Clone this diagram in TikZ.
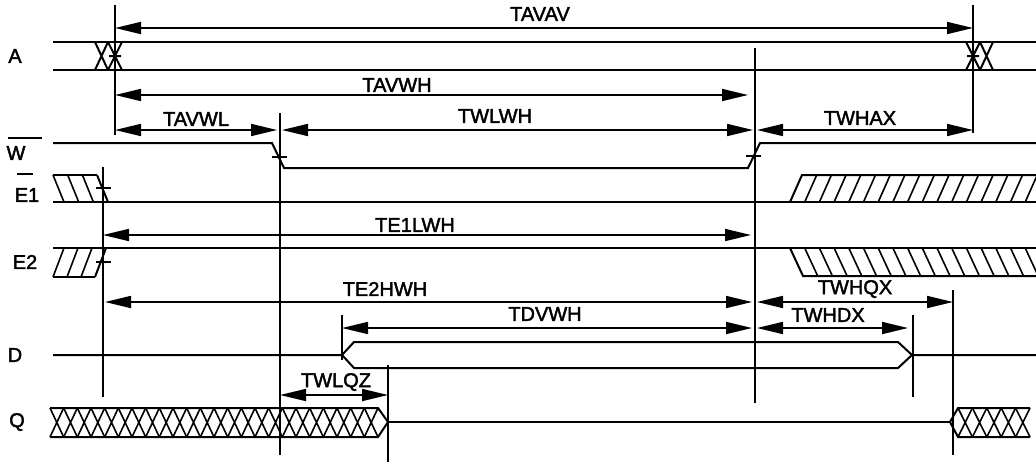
\documentclass[tikz,border=0pt]{standalone}
\usepackage{fontspec}
\setmainfont{Liberation Sans}
\newfontfamily\lblfont[FakeBold=2]{Liberation Sans}
\usetikzlibrary{arrows.meta}
\begin{document}
\begin{tikzpicture}[x=1pt,y=-1pt,
  sig/.style={line width=2pt},
  guide/.style={line width=1.8pt},
  dim/.style={line width=1.7pt,{Triangle[length=26pt,width=12pt]}-{Triangle[length=26pt,width=12pt]}},
  lbl/.style={font=\lblfont\fontsize{20}{20}\selectfont, inner sep=0pt},
  hatch/.style={line width=1.6pt}]
\useasboundingbox (0,0) rectangle (1036,464);

% ---------- signal names ----------
\node[lbl] (nA) at (15,56) {A};
\node[lbl] (nW) at (16,153) {W};
\draw[line width=1.6pt] (8,138) -- (42,138);
\node[lbl] (nE1) at (27,195) {E1};
\draw[line width=1.6pt] (17,174) -- (33,174);
\node[lbl] (nE2) at (25,262) {E2};
\node[lbl] (nD) at (15,355) {D};
\node[lbl] (nQ) at (17,422) {Q};

% ---------- guide (reference) lines ----------
\coordinate (g115t) at (115,5);   \coordinate (g115b) at (115,135);
\coordinate (g973t) at (973,5);   \coordinate (g973b) at (973,133);
\coordinate (g755t) at (755,48);  \coordinate (g755b) at (755,403);
\coordinate (g280t) at (280,113); \coordinate (g280b) at (280,455);
\coordinate (g103t) at (103,167); \coordinate (g103b) at (103,397);
\coordinate (g953t) at (953,290); \coordinate (g953b) at (953,455);
\coordinate (g342t) at (342,315); \coordinate (g342b) at (342,360);
\coordinate (g913t) at (913,315); \coordinate (g913b) at (913,397);
\coordinate (g388t) at (388,365); \coordinate (g388b) at (388,462);
\foreach \g in {115,973,755,280,103,953,342,913,388}
  \draw[guide] (g\g t) -- (g\g b);

% ---------- A ----------
\draw[sig] (53,42) -- (1036,42);
\draw[sig] (53,70) -- (1036,70);
\draw[sig] (95,42) -- (108,70) (95,70) -- (108,42);
\draw[sig] (108,42) -- (122,70) (108,70) -- (122,42) (109,56) -- (121,56);
\draw[sig] (966,42) -- (980,70) (966,70) -- (980,42) (967,56) -- (979,56);
\draw[sig] (980,42) -- (993,70) (980,70) -- (993,42);

% ---------- W ----------
\draw[sig] (53,143) -- (272,143) -- (284,168) -- (748,168) -- (760,143) -- (1036,143);
\draw[sig] (272,157) -- (287,157);
\draw[sig] (746,156) -- (761,156);

% ---------- E1 ----------
\draw[sig] (53,202) -- (1036,202);
\draw[sig] (53,175) -- (97,175);
\foreach \k in {0,1,2}
  \draw[hatch] ({53+14.7*\k},175) -- ({64+14.7*\k},202);
\draw[sig] (97,175) -- (108,202);
\draw[sig] (96,188) -- (111,188);
\begin{scope}
  \clip (780,170) rectangle (1036,205);
  \draw[sig] (790,202) -- (802,175) -- (1040,175);
  \foreach \k in {1,...,17}
    \draw[hatch] ({790+14.7*\k},202) -- ({802+14.7*\k},175);
\end{scope}

% ---------- E2 ----------
\draw[sig] (53,248) -- (1036,248);
\draw[sig] (53,277) -- (95,277);
\foreach \k in {0,1,2}
  \draw[hatch] ({53+14*\k},277) -- ({64+14*\k},248);
\draw[sig] (95,277) -- (106,248);
\draw[sig] (96,262) -- (111,262);
\begin{scope}
  \clip (780,245) rectangle (1036,280);
  \draw[sig] (790,248) -- (803,276) -- (1040,276);
  \foreach \k in {1,...,17}
    \draw[hatch] ({790+14.7*\k},248) -- ({803+14.7*\k},276);
\end{scope}

% ---------- D ----------
\draw[sig] (53,355) -- (342,355) -- (354,342) -- (898,342) -- (912,355) -- (1036,355);
\draw[sig] (342,355) -- (354,368) -- (898,368) -- (912,355);

% ---------- Q ----------
\draw[sig] (50,408) -- (378,408) -- (388,422) -- (378,437) -- (50,437);
\foreach \k in {0,...,23}
  \draw[hatch] ({50+13.667*\k},408) -- ({50+13.667*(\k+1)},437)
               ({50+13.667*\k},437) -- ({50+13.667*(\k+1)},408);
\draw[sig] (388,422) -- (950,422);
\draw[sig] (1030,408) -- (958,408) -- (950,422) -- (958,437) -- (1030,437);
\foreach \k in {0,...,4}
  \draw[hatch] ({958+14.4*\k},408) -- ({958+14.4*(\k+1)},437)
               ({958+14.4*\k},437) -- ({958+14.4*(\k+1)},408);

% ---------- dimension arrows ----------
\coordinate (a1l) at (115,28);  \coordinate (a1r) at (973,28);
\coordinate (a2l) at (115,95);  \coordinate (a2r) at (748,95);
\coordinate (a3l) at (115,130); \coordinate (a3r) at (277,130);
\coordinate (a4l) at (282,130); \coordinate (a4r) at (753,130);
\coordinate (a5l) at (757,130); \coordinate (a5r) at (973,130);
\coordinate (a6l) at (103,235); \coordinate (a6r) at (751,235);
\coordinate (a7l) at (105,302); \coordinate (a7r) at (752,302);
\coordinate (a8l) at (757,302); \coordinate (a8r) at (953,302);
\coordinate (a9l) at (342,328); \coordinate (a9r) at (752,328);
\coordinate (a10l) at (757,328); \coordinate (a10r) at (908,328);
\coordinate (a11l) at (280,395); \coordinate (a11r) at (388,395);
\foreach \i in {1,...,11}
  \draw[dim] (a\i l) -- (a\i r);

\node[lbl] (tAVAV) at (540,14) {TAVAV};
\node[lbl] (tAVWH) at (397,85) {TAVWH};
\node[lbl] (tAVWL) at (196,119) {TAVWL};
\node[lbl] (tWLWH) at (495,116) {TWLWH};
\node[lbl] (tWHAX) at (860,118) {TWHAX};
\node[lbl] (tE1LWH) at (415,225) {TE1LWH};
\node[lbl] (tE2HWH) at (385,289) {TE2HWH};
\node[lbl] (tWHQX) at (855,289) {TWHQX};
\node[lbl] (tDVWH) at (545,314) {TDVWH};
\node[lbl] (tWHDX) at (828,315) {TWHDX};
\node[lbl] (tWLQZ) at (336,382) {TWLQZ};
\end{tikzpicture}
\end{document}
